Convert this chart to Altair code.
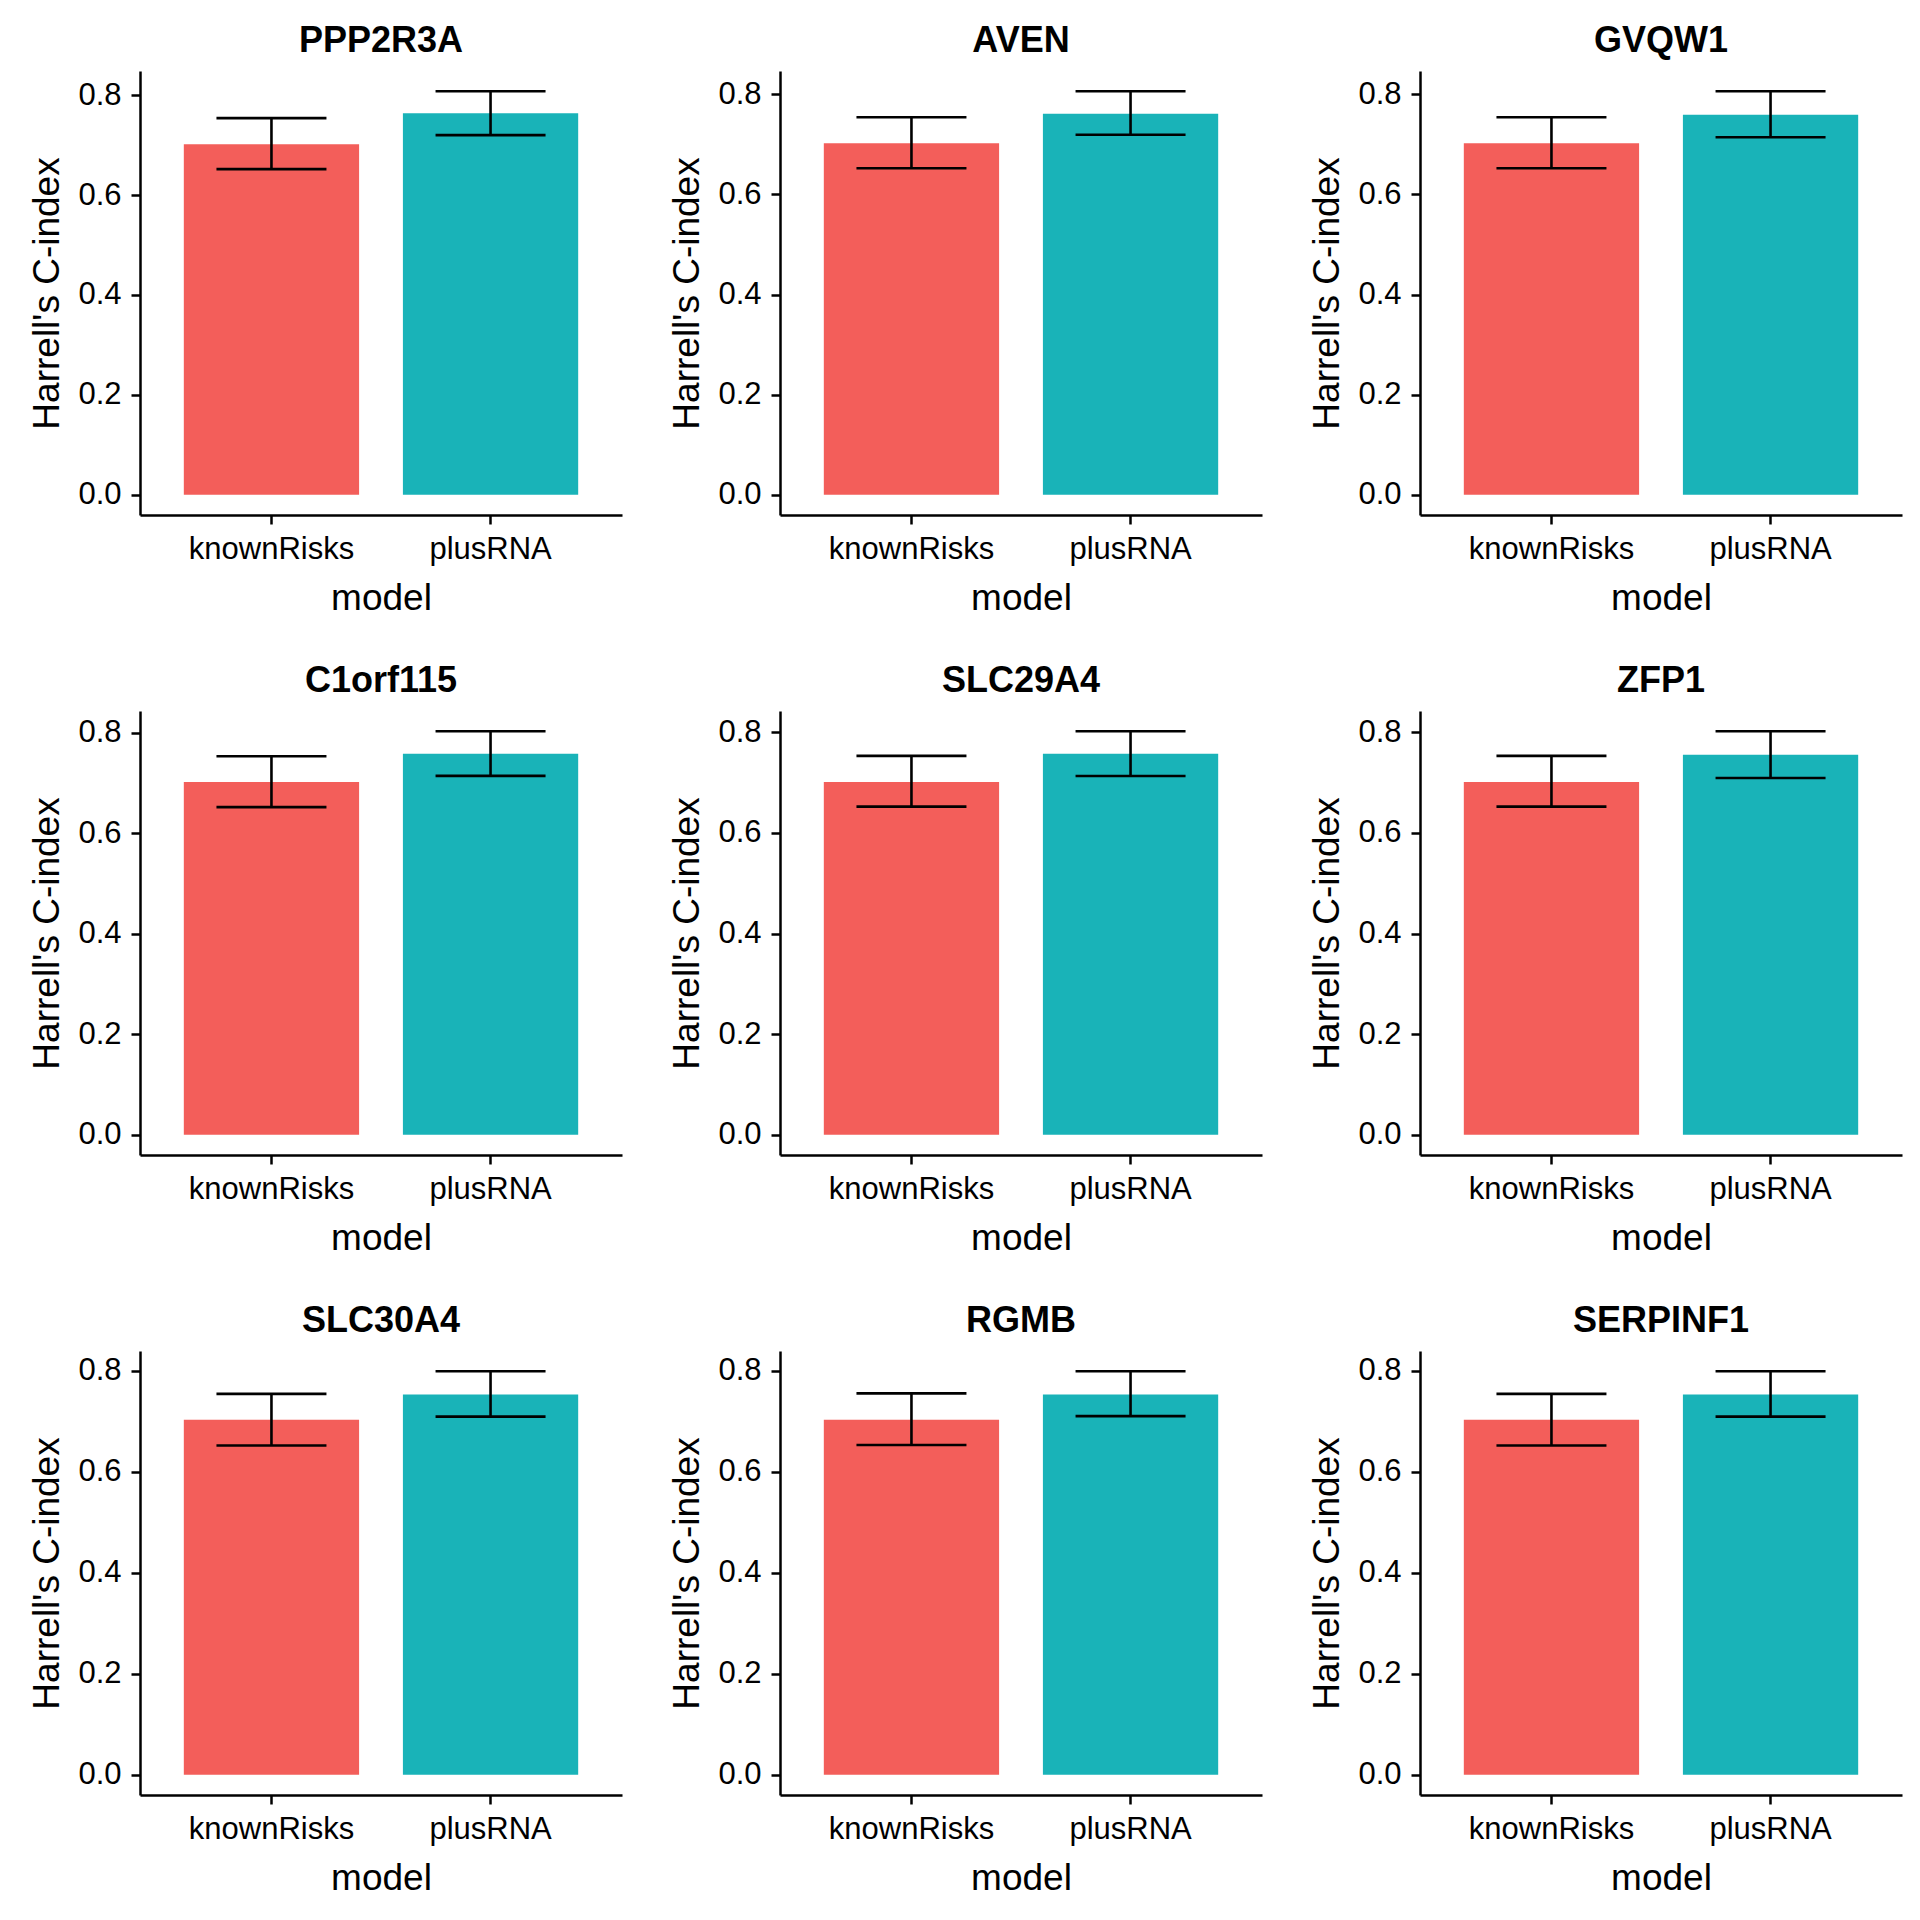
import altair as alt
import pandas as pd

genes = ["PPP2R3A", "AVEN", "GVQW1", "C1orf115", "SLC29A4", "ZFP1", "SLC30A4", "RGMB", "SERPINF1"]
models = ["knownRisks", "plusRNA"]

known_c = [0.702, 0.702, 0.702, 0.702, 0.701, 0.701, 0.703, 0.703, 0.703]
known_lo = [0.652, 0.652, 0.652, 0.652, 0.652, 0.652, 0.652, 0.653, 0.652]
known_hi = [0.754, 0.754, 0.754, 0.753, 0.753, 0.753, 0.754, 0.755, 0.754]
plus_c = [0.764, 0.761, 0.759, 0.758, 0.757, 0.755, 0.753, 0.753, 0.753]
plus_lo = [0.720, 0.719, 0.714, 0.714, 0.713, 0.709, 0.709, 0.710, 0.709]
plus_hi = [0.808, 0.806, 0.806, 0.803, 0.802, 0.802, 0.799, 0.799, 0.799]

y_ticks = [0.0, 0.2, 0.4, 0.6, 0.8]
colors = ["#F35E5A", "#19B3B8"]

FONT = "Liberation Sans"
W, H = 482, 444


def panel(i):
    df = pd.DataFrame({
        "model": models,
        "c": [known_c[i], plus_c[i]],
        "lo": [known_lo[i], plus_lo[i]],
        "hi": [known_hi[i], plus_hi[i]],
    })
    m = max(df["hi"].max(), df["c"].max())
    dom = [-0.05 * m, 1.05 * m]
    yscale = alt.Scale(domain=dom, nice=False, zero=False)
    yaxis = alt.Axis(title="Harrell's C-index", values=y_ticks, format=".1f",
                     titleX=-74, titleY=H / 2, titleAngle=270,
                     titleBaseline="bottom", titleAlign="center")
    x = alt.X("model:N", sort=models,
              scale=alt.Scale(paddingInner=0.2, paddingOuter=0.2),
              axis=alt.Axis(title="model", labelAngle=0, titleY=65,
                            titleBaseline="top"))
    base = alt.Chart(df)
    bars = base.mark_bar().encode(
        x=x,
        y=alt.Y("c:Q", scale=yscale, axis=yaxis),
        y2=alt.datum(0),
        color=alt.Color("model:N", scale=alt.Scale(domain=models, range=colors), legend=None),
    )
    rule = base.mark_rule(color="black", strokeWidth=2.6).encode(
        x=x,
        y=alt.Y("lo:Q", scale=yscale, axis=yaxis),
        y2="hi:Q",
    )
    cap_lo = base.mark_tick(color="black", thickness=2.6, size=110, opacity=1).encode(
        x=x, y=alt.Y("lo:Q", scale=yscale, axis=yaxis))
    cap_hi = base.mark_tick(color="black", thickness=2.6, size=110, opacity=1).encode(
        x=x, y=alt.Y("hi:Q", scale=yscale, axis=yaxis))
    return alt.layer(bars, rule, cap_lo, cap_hi).properties(
        width=W, height=H,
        title=alt.TitleParams(text=genes[i], anchor="middle", frame="group",
                              baseline="bottom", offset=-25, fontSize=36,
                              fontWeight="bold", font=FONT, color="black"),
    )


chart = alt.concat(*[panel(i) for i in range(len(genes))], columns=3,
                   spacing={"row": 196, "column": 158}, bounds="flush").properties(
    padding={"left": 20, "top": 15, "right": 5, "bottom": 5},
    background="white",
).configure_view(stroke=None).configure_axis(
    grid=False,
    domainColor="black", domainWidth=2.5,
    tickColor="black", tickWidth=2.5, tickSize=9,
    labelColor="black", labelFont=FONT, labelFontSize=31, labelPadding=10,
    titleColor="black", titleFont=FONT, titleFontSize=37, titleFontWeight="normal",
)

chart.save("out.html", embed_options={"renderer": "svg", "actions": False})
